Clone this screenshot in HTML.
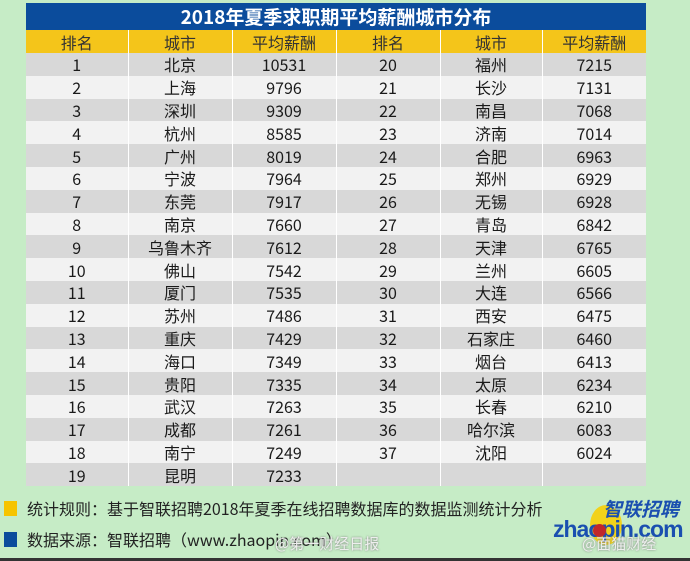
<!DOCTYPE html>
<html><head><meta charset="utf-8"><style>
*{margin:0;padding:0;box-sizing:border-box}
body{width:690px;height:561px;background:#c6ecc6;position:relative;overflow:hidden;font-family:"Noto Sans CJK SC","Liberation Sans",sans-serif;}
.t{position:absolute;left:26px;top:3px;width:620px;height:27px;background:#0b4c9c;color:#fff;font-weight:bold;font-size:19px;text-align:center;line-height:27px;}
table{position:absolute;left:26px;top:30px;width:620px;border-collapse:collapse;table-layout:fixed;}
td{text-align:center;font-size:16px;line-height:20px;color:#1a1a1a;height:22.8px;padding:0;border-right:1px solid #fff;vertical-align:middle;overflow:hidden}
td:last-child{border-right:none}
tr.h td{background:#f4c51a;height:23px;color:#333;font-size:16px}
tr.g td{background:#d8d8d8}
tr.w td{background:#f2f2f2}
.sq{position:absolute;left:4px;width:13px;height:15px}
.f{position:absolute;left:27px;font-size:16px;line-height:20px;color:#222}
</style></head><body>
<div class="t">2018年夏季求职期平均薪酬城市分布</div>
<table>
<colgroup><col style="width:102px"><col style="width:104px"><col style="width:104px"><col style="width:104px"><col style="width:102px"><col style="width:104px"></colgroup>
<tr class="h"><td>排名</td><td>城市</td><td>平均薪酬</td><td>排名</td><td>城市</td><td>平均薪酬</td></tr>
<tr class="g"><td>1</td><td>北京</td><td>10531</td><td>20</td><td>福州</td><td>7215</td></tr>
<tr class="w"><td>2</td><td>上海</td><td>9796</td><td>21</td><td>长沙</td><td>7131</td></tr>
<tr class="g"><td>3</td><td>深圳</td><td>9309</td><td>22</td><td>南昌</td><td>7068</td></tr>
<tr class="w"><td>4</td><td>杭州</td><td>8585</td><td>23</td><td>济南</td><td>7014</td></tr>
<tr class="g"><td>5</td><td>广州</td><td>8019</td><td>24</td><td>合肥</td><td>6963</td></tr>
<tr class="w"><td>6</td><td>宁波</td><td>7964</td><td>25</td><td>郑州</td><td>6929</td></tr>
<tr class="g"><td>7</td><td>东莞</td><td>7917</td><td>26</td><td>无锡</td><td>6928</td></tr>
<tr class="w"><td>8</td><td>南京</td><td>7660</td><td>27</td><td>青岛</td><td>6842</td></tr>
<tr class="g"><td>9</td><td>乌鲁木齐</td><td>7612</td><td>28</td><td>天津</td><td>6765</td></tr>
<tr class="w"><td>10</td><td>佛山</td><td>7542</td><td>29</td><td>兰州</td><td>6605</td></tr>
<tr class="g"><td>11</td><td>厦门</td><td>7535</td><td>30</td><td>大连</td><td>6566</td></tr>
<tr class="w"><td>12</td><td>苏州</td><td>7486</td><td>31</td><td>西安</td><td>6475</td></tr>
<tr class="g"><td>13</td><td>重庆</td><td>7429</td><td>32</td><td>石家庄</td><td>6460</td></tr>
<tr class="w"><td>14</td><td>海口</td><td>7349</td><td>33</td><td>烟台</td><td>6413</td></tr>
<tr class="g"><td>15</td><td>贵阳</td><td>7335</td><td>34</td><td>太原</td><td>6234</td></tr>
<tr class="w"><td>16</td><td>武汉</td><td>7263</td><td>35</td><td>长春</td><td>6210</td></tr>
<tr class="g"><td>17</td><td>成都</td><td>7261</td><td>36</td><td>哈尔滨</td><td>6083</td></tr>
<tr class="w"><td>18</td><td>南宁</td><td>7249</td><td>37</td><td>沈阳</td><td>6024</td></tr>
<tr class="g"><td>19</td><td>昆明</td><td>7233</td><td></td><td></td><td></td></tr>
</table>
<div class="sq" style="top:501px;background:#f6c400"></div>
<div class="f" style="top:498px">统计规则：基于智联招聘2018年夏季在线招聘数据库的数据监测统计分析</div>
<div class="sq" style="top:532px;background:#0b4c9c"></div>
<div class="f" style="top:529px">数据来源：智联招聘（www.zhaopin.com）</div>
<div style="position:absolute;left:590px;top:505px;width:32px;height:40px;border-radius:50%;background:#f2d21a"></div>
<div style="position:absolute;left:603px;top:497px;font-size:19px;line-height:23px;font-weight:bold;font-style:italic;color:#1a4fb0">智联招聘</div>
<div style="position:absolute;left:553px;top:517px;font-family:'Liberation Sans',sans-serif;font-size:23px;line-height:24px;font-weight:bold;color:#1a4fb0;letter-spacing:-1px">zhaopin.com</div>
<div style="position:absolute;left:593px;top:524px;width:13px;height:13px;border-radius:50%;background:#c0282a"></div>
<div style="position:absolute;left:275px;top:534px;font-size:15px;line-height:20px;color:#eee;text-shadow:0 0 2px #777">@第一财经日报</div>
<div style="position:absolute;left:582px;top:534px;font-size:15px;line-height:20px;color:#eee;text-shadow:0 0 2px #777">@面猫财经</div>
<div style="position:absolute;left:0;top:558px;width:690px;height:3px;background:#333"></div>
</body></html>
